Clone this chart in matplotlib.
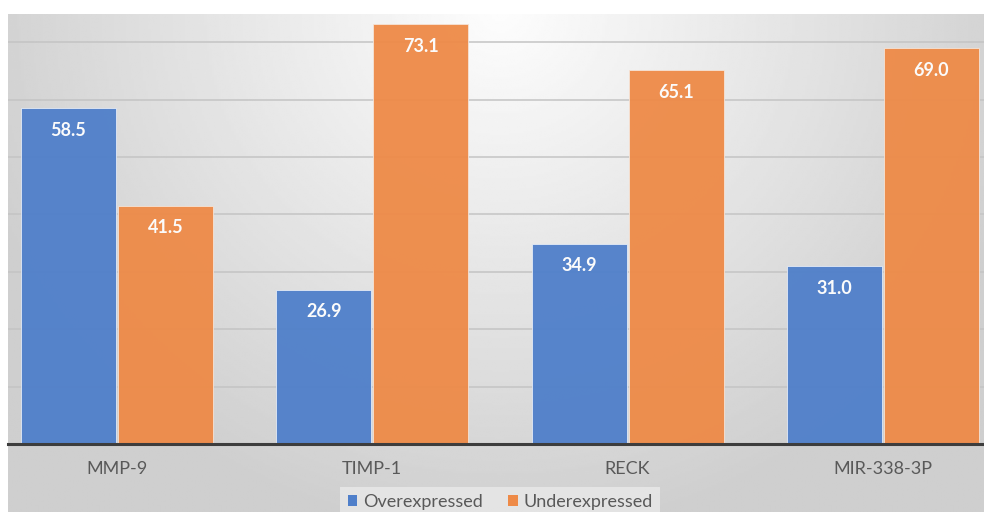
import numpy as np
import matplotlib
matplotlib.use("Agg")
import matplotlib.pyplot as plt
from matplotlib.patches import Patch

categories = ["MMP-9", "TIMP-1", "RECK", "MIR-338-3P"]
overexpressed = [58.5, 26.9, 34.9, 31.0]
underexpressed = [41.5, 73.1, 65.1, 69.0]
series_names = ["Overexpressed", "Underexpressed"]

BLUE = "#4f7fca"
ORANGE = "#ee8a47"
W, H = 984, 512

plt.rcParams["font.family"] = ["Lato", "DejaVu Sans"]

fig = plt.figure(figsize=(W / 100, H / 100), dpi=100)
fig.patch.set_facecolor("white")

# chart area with a soft radial gray gradient
left_px, top_px, axis_px = 8, 14, 444
bg = fig.add_axes([left_px / W, 0, 1 - left_px / W, (H - top_px) / H])
xs = np.linspace(left_px, W, 400)
ys = np.linspace(top_px, H, 250)
X, Y = np.meshgrid(xs, ys)
d = np.sqrt(((X - 500) / 520) ** 2 + ((Y - 10) / 500) ** 2)
shade = np.clip(253 - 44 * d, 207, 253) / 255
bg.imshow(shade, cmap="gray", vmin=0, vmax=1, aspect="auto",
          extent=[0, 1, 0, 1], interpolation="bilinear")
bg.set_axis_off()

# plot axes
xlo, xhi = -0.427, 3.396
ax = fig.add_axes([left_px / W, (H - axis_px) / H,
                   1 - left_px / W, (axis_px - top_px) / H])
ax.set_facecolor("none")
ax.set_xlim(xlo, xhi)
ax.set_ylim(0, 74.9)

x = np.arange(len(categories))
width = 0.372
offset = 0.19
for k in range(10, 80, 10):
    ax.axhline(k, color="#c4c4c4", lw=1.1, zorder=1)

b1 = ax.bar(x - offset, overexpressed, width, color=BLUE, alpha=0.95,
            edgecolor="#e8eef8", linewidth=0.6, zorder=2)
b2 = ax.bar(x + offset, underexpressed, width, color=ORANGE, alpha=0.95,
            edgecolor="#f6e6da", linewidth=0.6, zorder=2)

for bars, vals in ((b1, overexpressed), (b2, underexpressed)):
    for rect, v in zip(bars, vals):
        ax.annotate(f"{v:.1f}", (rect.get_x() + rect.get_width() / 2, v),
                    xytext=(0, -16), textcoords="offset points",
                    ha="center", va="center", color="#fbfbfb",
                    fontsize=13, fontweight="bold", zorder=3)

ax.axhline(0, color="#3d3d3d", lw=2.2, zorder=4, clip_on=False)
for s in ax.spines.values():
    s.set_visible(False)
ax.set_yticks([])
ax.set_xticks(x)
ax.set_xticklabels(categories, fontsize=13, color="#595959")
ax.tick_params(axis="x", length=0, pad=12)

handles = [Patch(facecolor=BLUE, label=series_names[0]),
           Patch(facecolor=ORANGE, label=series_names[1])]
leg = fig.legend(handles=handles, loc="center", ncol=2,
                 bbox_to_anchor=(500 / W, (H - 502) / H),
                 frameon=True, fontsize=13, handlelength=0.55,
                 handleheight=0.55, handletextpad=0.3, columnspacing=1.4,
                 borderpad=0.4, fancybox=False)
leg.get_frame().set_facecolor("#e9e9e9")
leg.get_frame().set_edgecolor("none")
leg.get_frame().set_alpha(0.8)
for t in leg.get_texts():
    t.set_color("#595959")

fig.savefig("out.png", dpi=100, facecolor="white")
